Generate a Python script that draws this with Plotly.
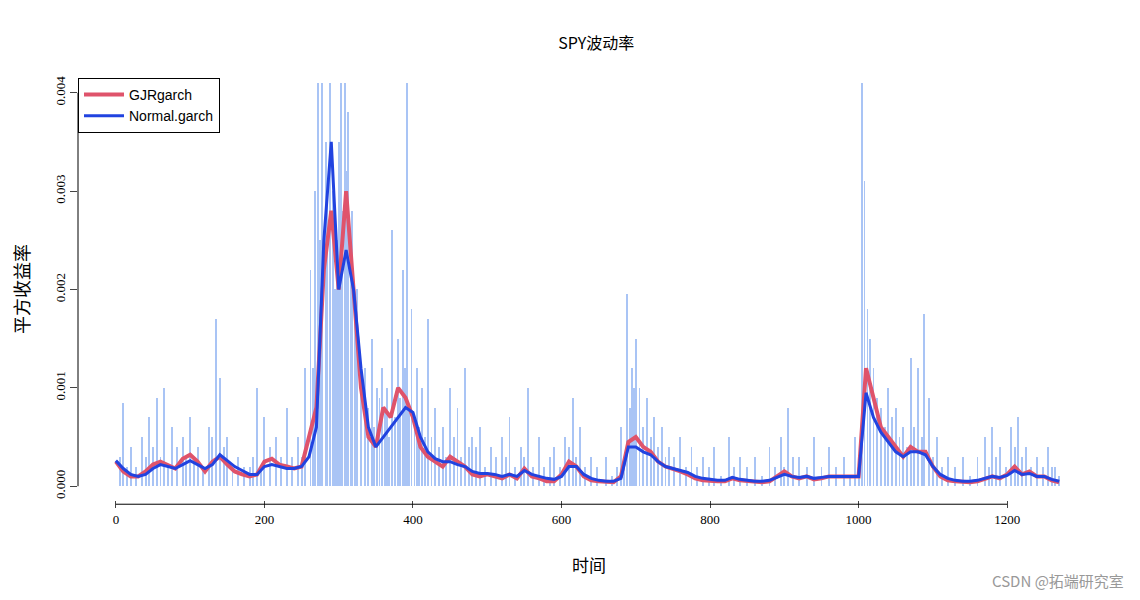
import plotly.graph_objects as go

x10 = list(range(0, 1280, 10))
gjr = [2.5,1.5,1.0,1.0,1.5,2.2,2.5,2.2,1.8,2.8,3.2,2.5,1.5,2.5,3.0,2.2,1.5,1.2,1.0,1.2,2.5,2.8,2.2,2.0,1.8,2.0,5,8,22,28,20,30,20,10,5,4,8,7,10,9,7,4,3,2.5,2,3,2.5,2,1.2,1.0,1.2,1.0,0.8,1.2,0.8,1.8,1.0,0.8,0.5,0.5,1.2,2.5,2.0,1.0,0.6,0.5,0.4,0.4,1.0,4.5,5,4,3.5,2.5,2,1.8,1.5,1.2,0.8,0.6,0.5,0.5,0.5,0.8,0.6,0.5,0.4,0.4,0.5,1.0,1.5,1.0,0.8,1.0,0.7,0.8,1.0,1.0,1.0,1.0,1.0,12,9,6,5,4,3,4,3.5,3.5,2,1,0.6,0.5,0.4,0.4,0.5,0.7,1.0,0.8,1.2,2.0,1.2,1.5,1.0,1.0,0.6,0.4]
normal = [2.6,1.8,1.2,1.0,1.2,1.8,2.2,2.0,1.8,2.2,2.6,2.2,1.8,2.2,3.2,2.6,2.0,1.6,1.2,1.2,2.0,2.2,2.0,1.8,1.8,2.0,3,6,25,35,20,24,20,12,6,4,5,6,7,8,7.5,5,3.5,2.8,2.5,2.5,2.2,2,1.5,1.3,1.3,1.2,1.0,1.2,1.0,1.6,1.2,1.0,0.8,0.7,1.0,2.0,2.0,1.2,0.8,0.6,0.5,0.5,0.8,4,4,3.5,3.2,2.5,2,1.8,1.6,1.4,1.0,0.8,0.7,0.6,0.6,0.9,0.7,0.6,0.5,0.5,0.6,0.9,1.2,1.0,0.9,1.0,0.8,0.9,1.0,1.0,1.0,1.0,1.0,9.5,7,5.5,4.5,3.5,3,3.5,3.5,3.2,2,1.2,0.8,0.6,0.5,0.5,0.6,0.8,1.0,0.9,1.1,1.6,1.2,1.3,1.0,1.0,0.7,0.5]
spk_x = [10,20,35,45,55,65,75,90,100,110,125,135,140,150,165,190,200,215,230,245,255,262,268,272,278,283,288,292,298,303,308,313,318,325,335,345,352,358,365,372,380,386,392,398,405,412,420,430,440,450,460,470,480,490,505,520,530,545,555,570,590,605,615,625,640,660,680,688,695,700,705,715,725,735,745,760,775,790,805,825,840,860,880,895,905,920,940,960,980,995,1005,1008,1015,1020,1030,1040,1050,1060,1070,1080,1088,1095,1105,1120,1140,1160,1170,1180,1190,1205,1215,1225,1240,1255,1265]
spk_y = [8.5,4,5,7,9,10,6,5,7,4,6,17,11,5,3,10,7,5,8,5,12,22,30,41,41,35,41,30,25,41,41,38,28,20,12,15,10,12,10,26,15,22,41,18,12,10,17,8,6,10,8,12,5,6,4,5,7,4,10,5,4,5,9,6,3,3,6,19.5,12,15,10,9,7,6,4,5,4,3,4,5,3,3,4,5,8,3,5,4,3,5,41,31,15,12,8,10,8,6,13,12,17.5,9,5,3,3,3,5,6,4,6,7,4,3,4,2]
small_x = [5,15,27,40,50,60,70,82,95,105,117,130,145,157,172,180,185,195,207,222,237,250,265,275,285,295,300,305,310,316,322,330,340,348,355,362,368,376,383,389,395,402,408,416,425,435,445,455,465,475,485,497,512,525,537,550,562,577,585,598,610,620,632,648,668,675,684,692,698,710,720,730,740,752,768,782,798,815,832,850,870,888,900,912,930,950,970,988,1000,1012,1025,1035,1045,1055,1065,1075,1085,1100,1112,1130,1150,1175,1185,1198,1210,1220,1232,1248,1260,1270]
small_y = [3,2,2,3,4,3,2,4,3,3,2,5,4,2,2,2,3,2,4,3,3,3,12,25,30,20,35,28,32,22,18,10,8,6,9,8,5,7,9,12,8,7,6,5,5,4,3,5,3,4,4,2,3,3,2,3,2,2,3,2,4,3,2,2,1,2,3,8,10,6,5,4,3,3,2,2,2,1,2,2,1,2,2,3,2,2,2,1,3,18,9,6,7,5,4,6,5,3,2,2,1,2,3,2,4,3,2,2,2,1]

s = 1e-4
serif = "Liberation Serif"
cjk = "Noto Sans CJK SC"
fig = go.Figure()
fig.add_trace(go.Bar(x=spk_x + small_x, y=[v*s for v in spk_y + small_y], width=1.2,
                     marker=dict(color="#a9c4f5", line_width=0), showlegend=False))
fig.add_trace(go.Scatter(x=x10, y=[v*s for v in gjr], mode="lines", line=dict(color="#df536b", width=4), name="GJRgarch"))
fig.add_trace(go.Scatter(x=x10, y=[v*s for v in normal], mode="lines", line=dict(color="#2143e0", width=3), name="Normal.garch"))
fig.update_layout(
    width=1140, height=600, paper_bgcolor="white", plot_bgcolor="white",
    margin=dict(l=70, r=48, t=70, b=108, autoexpand=False), bargap=0,
    title=dict(text="SPY波动率", x=0.516, y=0.95, xanchor="center", font=dict(family=cjk, size=16, color="black")),
    legend=dict(x=0.0, y=1.0, xanchor="left", yanchor="top", bordercolor="black", borderwidth=1, bgcolor="white",
                font=dict(family="Liberation Sans", size=14, color="black"), tracegroupgap=0, itemwidth=40),
    font=dict(family=serif, color="black"),
)
fig.update_xaxes(range=[-51, 1325], tickvals=[0,200,400,600,800,1000,1200], ticks="outside", ticklen=7,
                 showgrid=False, zeroline=False, showline=False, automargin=False, tickfont=dict(family=serif, size=13),
                 title=dict(text="时间", font=dict(family=cjk, size=17), standoff=34))
fig.update_yaxes(range=[-0.00014, 0.00415], tickvals=[0,0.001,0.002,0.003,0.004], tickformat=".3f", tickangle=-90,
                 ticks="outside", ticklen=7, showgrid=False, zeroline=False, showline=False, automargin=False,
                 tickfont=dict(family=serif, size=13), title=dict(text="平方收益率", font=dict(family=cjk, size=18), standoff=30))
fig.add_shape(type="line", xref="x", yref="paper", x0=0, x1=1200, y0=-0.01, y1=-0.01, line=dict(color="black", width=1))
fig.add_shape(type="line", xref="paper", yref="y", x0=0, x1=0, y0=0, y1=0.004, line=dict(color="black", width=1))
fig.add_annotation(text="CSDN @拓端研究室", xref="paper", yref="paper", x=1.025, y=-0.22, xanchor="right", showarrow=False,
                   font=dict(family=cjk, size=15, color="#999999"))
fig.write_html("out.html")
